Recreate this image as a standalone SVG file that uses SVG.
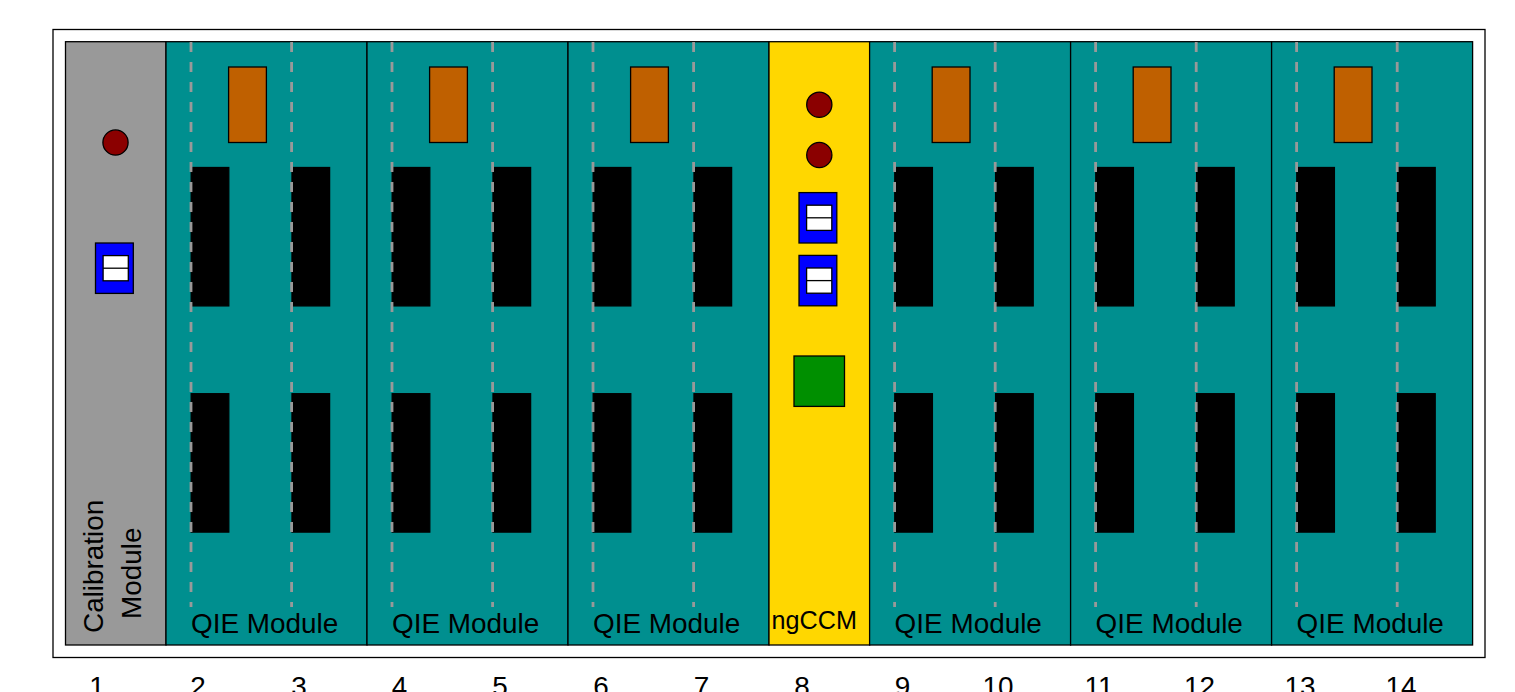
<svg xmlns="http://www.w3.org/2000/svg" xmlns:xlink="http://www.w3.org/1999/xlink" width="1515" height="692" viewBox="0 0 1515 692">
<style>
text{font-family:"Liberation Sans",Arial,sans-serif;font-size:27.9px;fill:#000}
rect,circle{stroke:#000;stroke-width:1.3}
.panel{fill:#008f8f}
.cal{fill:#999}
.ngccm{fill:#ffd700}
.org{fill:#bf6000}
.blk{fill:#000}
.red{fill:#8b0000}
.blue{fill:#00f}
.wht{fill:#fff}
.grn{fill:#008f00}
.dash{stroke:#999;stroke-width:2.8;stroke-dasharray:10 10;fill:none}
</style>
<defs>
<g id="qie">
<rect class="panel" x="0" y="41.7" width="201" height="603.3"/>
<rect class="org" x="62.6" y="67" width="37.8" height="75.5"/>
<rect class="blk" x="25.2" y="167.5" width="37.6" height="138.4"/>
<rect class="blk" x="126" y="167.5" width="37.6" height="138.4"/>
<rect class="blk" x="25.2" y="393.7" width="37.6" height="138.4"/>
<rect class="blk" x="126" y="393.7" width="37.6" height="138.4"/>
<path class="dash" d="M25 42V607M125.6 42V607"/>
<text x="25" y="633">QIE Module</text>
</g>
<g id="conn">
<rect class="blue" x="0" y="0" width="37.8" height="50.4"/>
<rect class="wht" x="7.6" y="12.6" width="25.2" height="25.2"/>
<path d="M7.6 25.2H32.8" stroke="#000" stroke-width="1.3"/>
</g>
</defs>
<rect id="frame" x="53" y="29.5" width="1432" height="628" fill="#fff"/>
<g id="slot1">
<rect class="cal" x="65.5" y="41.7" width="100.5" height="603.3"/>
<circle class="red" cx="115.5" cy="142.5" r="12.6"/>
<use xlink:href="#conn" href="#conn" x="95.5" y="243"/>
<text transform="translate(102.5 633) rotate(-90)">Calibration</text>
<text transform="translate(141 619) rotate(-90)">Module</text>
</g>
<use id="qie2" xlink:href="#qie" href="#qie" x="166"/>
<use id="qie4" xlink:href="#qie" href="#qie" x="367"/>
<use id="qie6" xlink:href="#qie" href="#qie" x="568"/>
<g id="slot8">
<rect class="ngccm" x="769" y="41.7" width="100.7" height="603.3"/>
<circle class="red" cx="819.3" cy="104.7" r="12.6"/>
<circle class="red" cx="819.3" cy="155" r="12.6"/>
<use xlink:href="#conn" href="#conn" x="799" y="192.6"/>
<use xlink:href="#conn" href="#conn" x="799" y="255.4"/>
<rect class="grn" x="794" y="356" width="50.5" height="50.4"/>
<text x="771.5" y="629" style="font-size:25.2px">ngCCM</text>
</g>
<use id="qie9" xlink:href="#qie" href="#qie" x="869.6"/>
<use id="qie11" xlink:href="#qie" href="#qie" x="1070.6"/>
<use id="qie13" xlink:href="#qie" href="#qie" x="1271.6"/>
<g id="numbers" text-anchor="middle">
<text x="97" y="696">1</text>
<text x="198" y="696">2</text>
<text x="299" y="696">3</text>
<text x="399.5" y="696">4</text>
<text x="500" y="696">5</text>
<text x="601" y="696">6</text>
<text x="701.5" y="696">7</text>
<text x="802" y="696">8</text>
<text x="902.5" y="696">9</text>
<text x="998" y="696">10</text>
<text x="1099" y="696">11</text>
<text x="1199.5" y="696">12</text>
<text x="1300" y="696">13</text>
<text x="1401" y="696">14</text>
</g>
<g id="connectors"/>
</svg>
